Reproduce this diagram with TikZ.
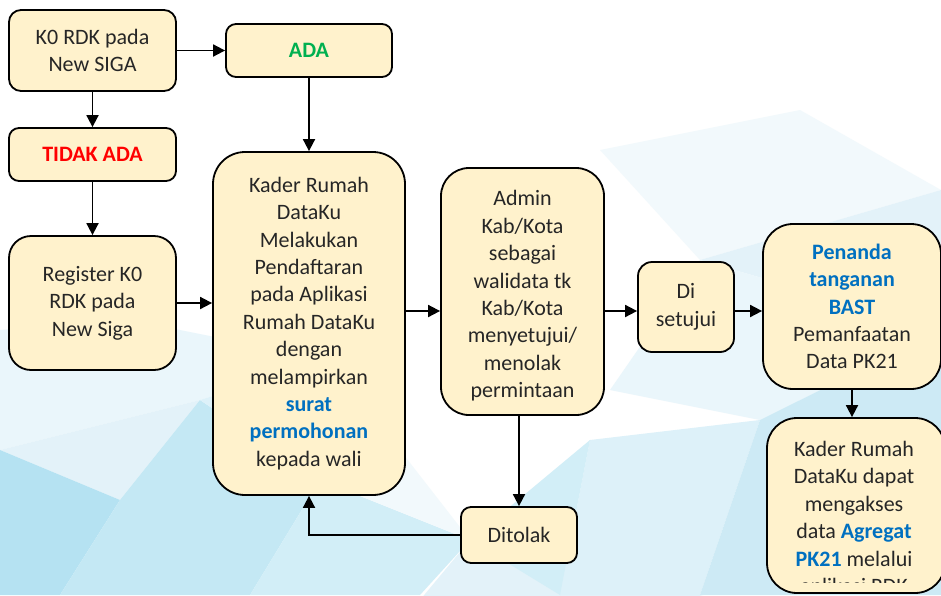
\documentclass[tikz,border=0pt]{standalone}
\usepackage{fontspec}
\setmainfont{Carlito}
\usetikzlibrary{arrows.meta}
\definecolor{boxfill}{HTML}{FFF2CC}
\definecolor{txt}{HTML}{262626}
\definecolor{okgreen}{HTML}{00B050}
\definecolor{nored}{HTML}{FF0000}
\definecolor{hlblue}{HTML}{0070C0}
\definecolor{bgA}{HTML}{E3F2F9}
\definecolor{bgB}{HTML}{B5E2F2}
\definecolor{bgC}{HTML}{C4E8F4}
\definecolor{bgD}{HTML}{EAF6FB}
\definecolor{bgE}{HTML}{D2EEF7}
\definecolor{bgF}{HTML}{DDF1F9}
\definecolor{bgG}{HTML}{F2F9FC}
\definecolor{bgH}{HTML}{CDEAF5}
\tikzset{
  box/.style={draw=black, line width=1.8pt, fill=boxfill, text=txt, align=center,
    font=\fontsize{22}{27.4}\selectfont, inner sep=0pt},
  plain/.style={text=txt, align=center, font=\fontsize{22}{27.4}\selectfont, inner sep=0pt},
  arr/.style={line width=1.8pt, -{Triangle[length=12pt,width=12pt]}},
}
\newcommand{\bl}[1]{\textbf{\textcolor{hlblue}{#1}}}
\begin{document}
\begin{tikzpicture}[x=1pt,y=-1pt]
\useasboundingbox (0,0) rectangle (941,595);
\clip (0,0) rectangle (941,595);
\fill[white] (0,0) rectangle (941,595);
% background polygons (left)
\fill[bgD] (0,330) -- (130,320) -- (330,360) -- (200,400) -- (0,450) -- cycle;
\fill[bgA] (0,450) -- (200,400) -- (120,500) -- cycle;
\fill[bgB] (0,450) -- (120,500) -- (60,595) -- (0,595) -- cycle;
\fill[bgC] (120,500) -- (200,400) -- (320,480) -- (250,595) -- (60,595) -- cycle;
\fill[bgF] (200,400) -- (330,360) -- (320,480) -- cycle;
\fill[bgE] (320,480) -- (470,540) -- (420,595) -- (250,595) -- cycle;
\fill[bgA] (470,540) -- (720,600) -- (420,600) -- cycle;
\fill[bgG] (330,360) -- (470,540) -- (320,480) -- cycle;
% background polygons (right)
\fill[bgG] (600,150) -- (800,110) -- (941,190) -- (700,260) -- cycle;
\fill[bgA] (700,260) -- (941,190) -- (941,330) -- cycle;
\fill[bgD] (610,390) -- (700,260) -- (941,330) -- (760,420) -- cycle;
\fill[bgF] (590,440) -- (760,420) -- (700,595) -- (560,595) -- cycle;
\fill[bgH] (760,420) -- (941,330) -- (941,595) -- (700,595) -- cycle;
\fill[bgE] (560,595) -- (590,440) -- (470,540) -- cycle;

% nodes
\node[box, minimum width=167pt, minimum height=81pt, rounded corners=12pt] (k0) at (92.5,50.5) {K0 RDK pada\\New SIGA};
\node[box, minimum width=166pt, minimum height=53pt, rounded corners=10pt] (ada) at (309,50.5) {\textbf{\textcolor{okgreen}{ADA}}};
\node[box, minimum width=167pt, minimum height=53pt, rounded corners=10pt] (tidak) at (92.5,154.5) {\textbf{\textcolor{nored}{TIDAK ADA}}};
\node[box, minimum width=167pt, minimum height=134pt, rounded corners=22pt] (reg) at (92.5,303) {Register K0\\RDK pada\\New Siga};
\node[box, minimum width=192pt, minimum height=343pt, rounded corners=32pt] (kader) at (309,323.5) {Kader Rumah\\DataKu\\Melakukan\\Pendaftaran\\pada Aplikasi\\Rumah DataKu\\dengan\\melampirkan\\\bl{surat}\\\bl{permohonan}\\kepada wali};
\node[box, minimum width=163pt, minimum height=247pt, rounded corners=28pt] (admin) at (522.5,291.5) {};
\node[plain] (admintext) at (522.5,296) {Admin\\Kab/Kota\\sebagai\\walidata tk\\Kab/Kota\\menyetujui/\\menolak\\permintaan};
\node[box, minimum width=96pt, minimum height=90pt, rounded corners=14pt] (di) at (686,307) {Di\\setujui};
\node[box, minimum width=178pt, minimum height=165pt, rounded corners=30pt] (pen) at (852,306.5) {\bl{Penanda}\\\bl{tanganan}\\\bl{BAST}\\Pemanfaatan\\Data PK21};
\node[box, minimum width=178pt, minimum height=175pt, rounded corners=30pt] (fin) at (856,505.5) {};
\begin{scope}
\clip (767,418) rectangle (941,582);
\node[plain, anchor=north] (fintext) at (854,441) {Kader Rumah\\DataKu dapat\\mengakses\\data \bl{Agregat}\\\bl{PK21} melalui\\aplikasi RDK};
\end{scope}
\node[box, minimum width=116pt, minimum height=56pt, rounded corners=10pt] (dit) at (519,535) {Ditolak};

\coordinate (row) at (0,311);
% connectors
\draw[arr] (k0.east) -- (ada.west);
\draw[arr] (k0.south) -- (tidak.north);
\draw[arr] (tidak.south) -- (reg.north);
\draw[arr] (reg.east) -- (reg.east -| kader.west);
\draw[arr] (ada.south) -- (kader.north);
\draw[arr] (kader.east |- row) -- (admin.west |- row);
\draw[arr] (admin.east |- row) -- (di.west |- row);
\draw[arr] (di.east |- row) -- (pen.west |- row);
\draw[arr] (pen.south) -- (pen.south |- fin.north);
\draw[arr] (admin.south -| dit.north) -- (dit.north);
\draw[arr] (dit.west) -- (kader.south |- dit.west) -- (kader.south);
\end{tikzpicture}
\end{document}
